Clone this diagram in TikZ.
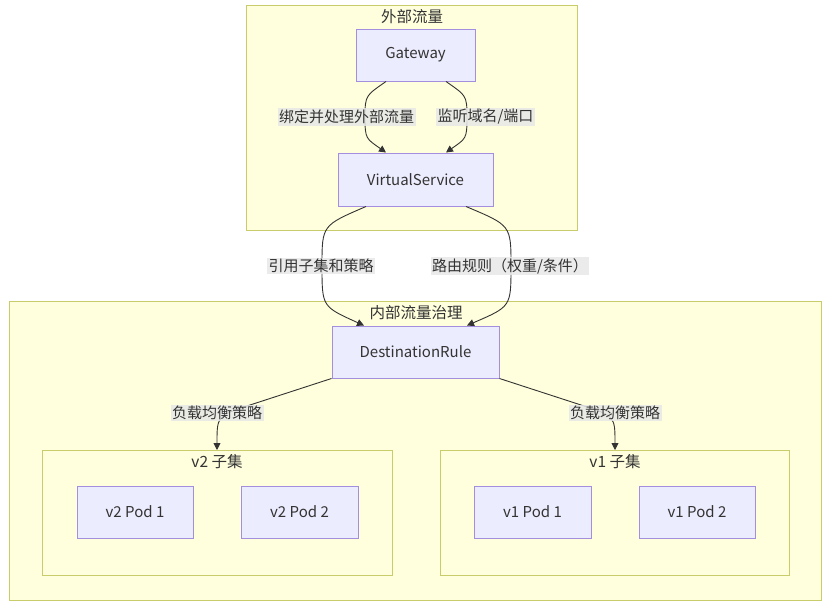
\documentclass[tikz,border=0pt]{standalone}
\usepackage{fontspec}
\setmainfont{Noto Sans CJK SC}
\usetikzlibrary{arrows.meta}
\definecolor{clfill}{HTML}{FFFFDE}
\definecolor{cldraw}{HTML}{C8CC6A}
\definecolor{ndfill}{HTML}{ECECFF}
\definecolor{nddraw}{HTML}{A48FDE}
\definecolor{txt}{HTML}{333333}
\definecolor{lblbg}{HTML}{E8E8E8}
\tikzset{
  cluster/.style={draw=cldraw, fill=clfill, line width=1pt},
  box/.style={draw=nddraw, fill=ndfill, line width=1pt, text=txt, inner sep=0pt, font=\fontsize{15}{17}\selectfont},
  ttl/.style={text=txt, font=\fontsize{15.5}{17}\selectfont, inner sep=1pt},
  elabel/.style={fill=lblbg, fill opacity=0.85, text opacity=1, text=txt, font=\fontsize{15}{17}\selectfont, inner sep=1.5pt},
  conn/.style={draw=txt, line width=0.9pt, -{Triangle[length=7pt,width=7pt]}}
}
\begin{document}
\begin{tikzpicture}[x=1pt,y=-1pt]
\useasboundingbox[fill=white] (0,0) rectangle (828,605);
% clusters
\path[cluster] (246,5) rectangle (577,230);
\node[ttl] (t1) at (412,17) {外部流量};
\path[cluster] (9,301) rectangle (821,600);
\node[ttl] (t2) at (416,313) {内部流量治理};
\path[cluster] (42,450) rectangle (392,575);
\node[ttl] (t3) at (217,462) {v2 子集};
\path[cluster] (440,450) rectangle (789,575);
\node[ttl] (t4) at (615,462) {v1 子集};
% nodes
\node[box, minimum width=119pt, minimum height=52pt] (gw) at (415.5,55) {Gateway};
\node[box, minimum width=155pt, minimum height=53pt] (vs) at (415.5,179.5) {VirtualService};
\node[box, minimum width=167pt, minimum height=52pt] (dr) at (415.5,352) {DestinationRule};
\node[box, minimum width=116pt, minimum height=52pt] (p21) at (135,512) {v2 Pod 1};
\node[box, minimum width=117pt, minimum height=52pt] (p22) at (299.5,512) {v2 Pod 2};
\node[box, minimum width=117pt, minimum height=52pt] (p11) at (532.5,512) {v1 Pod 1};
\node[box, minimum width=116pt, minimum height=52pt] (p12) at (697,512) {v1 Pod 2};
% connectors
\draw[conn] ([xshift=-29.5pt]gw.south) .. controls +(-20,14) and +(0,-22) .. (365,117)
  .. controls +(0,22) and +(-20,-14) .. ([xshift=-29.5pt]vs.north);
\draw[conn] ([xshift=30.5pt]gw.south) .. controls +(20,14) and +(0,-22) .. (467,117)
  .. controls +(0,22) and +(20,-14) .. ([xshift=30.5pt]vs.north);
\draw[conn] ([xshift=-49.5pt]vs.south) .. controls +(-44,19) and +(0,-41) .. (322,266)
  .. controls +(0,41) and +(-42,-19) .. ([xshift=-51.5pt]dr.north);
\draw[conn] ([xshift=50.5pt]vs.south) .. controls +(45,19) and +(0,-41) .. (511,266)
  .. controls +(0,41) and +(44,-19) .. ([xshift=51.5pt]dr.north);
\draw[conn] (dr.south west) -- (250,405) .. controls (217,416) .. (t3.north |- 0,450);
\draw[conn] (dr.south east) -- (581,405) .. controls (615,416) .. (t4.north |- 0,450);
% edge labels
\node[elabel] (l1) at (346.5,117) {绑定并处理外部流量};
\node[elabel] (l2) at (485.5,117) {监听域名/端口};
\node[elabel] (l3) at (321,266) {引用子集和策略};
\node[elabel] (l4) at (510,266) {路由规则（权重/条件）};
\node[elabel] (l5) at (217,413) {负载均衡策略};
\node[elabel] (l6) at (615,413) {负载均衡策略};
\end{tikzpicture}
\end{document}
